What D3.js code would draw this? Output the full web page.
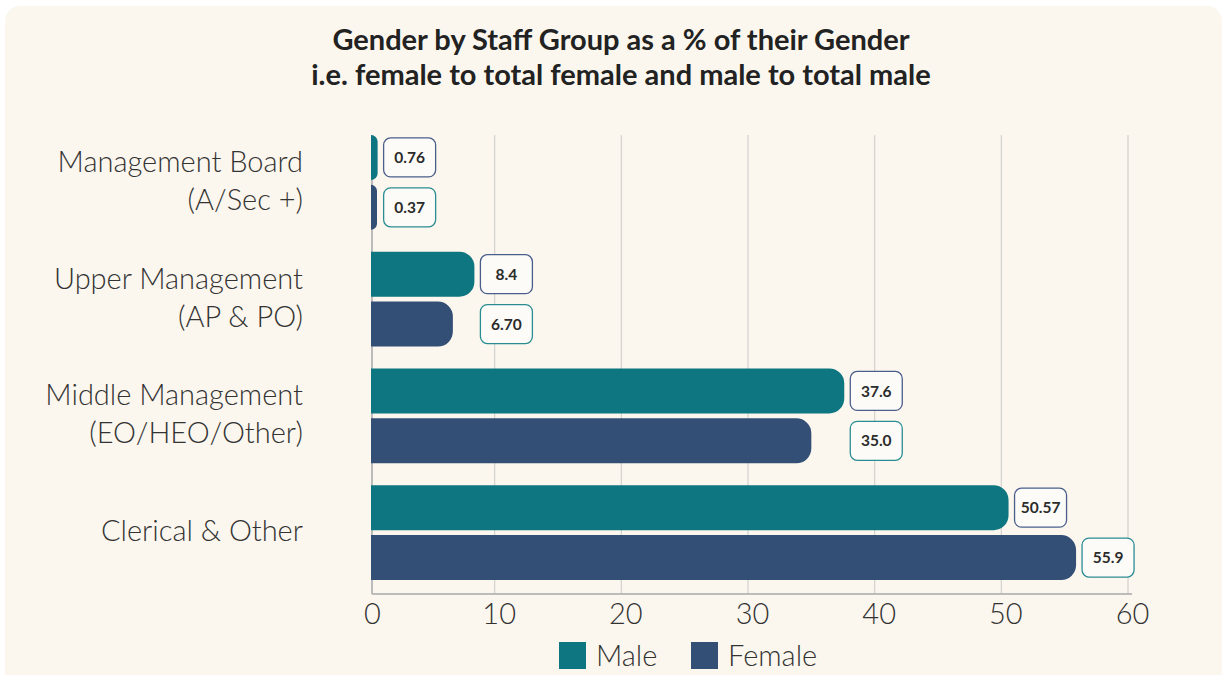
<!DOCTYPE html>
<html>
<head>
<meta charset="utf-8">
<script src="https://cdn.jsdelivr.net/npm/d3@7"></script>
<style>
	html, body { margin: 0; padding: 0; background: #ffffff; }
	svg { display: block; font-family: Lato, "Open Sans", sans-serif; }
</style>
</head>
<body>
<svg width="1229" height="675"></svg>
<script>
// data
const categories = [
	["Management Board", "(A/Sec +)"],
	["Upper Management", "(AP & PO)"],
	["Middle Management", "(EO/HEO/Other)"],
	["Clerical & Other"]
];
const series = ["Male", "Female"];
const maleValues = [0.76, 8.4, 37.6, 50.57];
const femaleValues = [0.37, 6.70, 35.0, 55.9];
const maleLabels = ["0.76", "8.4", "37.6", "50.57"];
const femaleLabels = ["0.37", "6.70", "35.0", "55.9"];
const xTicks = [0, 10, 20, 30, 40, 50, 60];

const colors = { Male: "#0e7680", Female: "#334f75" };
const labelBorder = { Male: "#4a5e8c", Female: "#2a8c93" };

const svg = d3.select("svg");

// card background
svg.append("rect")
	.attr("x", 5).attr("y", 6)
	.attr("width", 1217).attr("height", 700)
	.attr("rx", 15)
	.attr("fill", "#fbf7ee");

// title
const title = svg.append("text")
	.attr("text-anchor", "middle")
	.attr("font-weight", 700)
	.attr("font-size", 29)
	.attr("fill", "#222");
title.append("tspan").attr("x", 621).attr("y", 50).text("Gender by Staff Group as a % of their Gender");
title.append("tspan").attr("x", 621).attr("y", 85).text("i.e. female to total female and male to total male");

const x = d3.scaleLinear([0, 60], [368, 1128]);
const y = d3.scaleBand(d3.range(categories.length), [124, 591]);
const ySub = d3.scaleBand(series, [0, y.bandwidth()]).paddingInner(0.1).paddingOuter(0.22);

const plotTop = 135, plotBottom = 594, axisX = x(0) + 4;

// grid
svg.append("g")
	.selectAll("line")
	.data(xTicks.slice(1))
	.join("line")
	.attr("x1", d => x(d)).attr("x2", d => x(d))
	.attr("y1", plotTop).attr("y2", plotBottom)
	.attr("stroke", "#d3d1cf")
	.attr("stroke-width", 1.2);

// axis lines
svg.append("line")
	.attr("x1", axisX).attr("x2", axisX)
	.attr("y1", plotTop).attr("y2", plotBottom)
	.attr("stroke", "#a9a9a9").attr("stroke-width", 1.5);
svg.append("line")
	.attr("x1", axisX).attr("x2", x(60) + 4)
	.attr("y1", plotBottom).attr("y2", plotBottom)
	.attr("stroke", "#a9a9a9").attr("stroke-width", 1.5);

// x tick labels
const xAxis = d3.axisBottom(x).tickValues(xTicks).tickSize(0).tickPadding(9);
const gX = svg.append("g")
	.attr("transform", `translate(0,${plotBottom})`)
	.call(xAxis);
gX.select(".domain").remove();
gX.selectAll("text")
	.attr("font-family", "Lato, sans-serif")
	.attr("font-weight", 300)
	.attr("font-size", 29)
	.attr("fill", "#333")
	.attr("dx", 4)
	.attr("dy", "0.72em");

// category labels
const catLabels = svg.append("g")
	.selectAll("text")
	.data(categories)
	.join("text")
	.attr("text-anchor", "end")
	.attr("font-weight", 300)
	.attr("font-size", 29)
	.attr("fill", "#333");
catLabels.each(function (lines, i) {
	const cy = y(i) + y.bandwidth() / 2 - 2;
	const lh = 38;
	const start = cy - (lines.length - 1) * lh / 2;
	d3.select(this).selectAll("tspan")
		.data(lines)
		.join("tspan")
		.attr("x", 303)
		.attr("y", (d, j) => start + j * lh)
		.attr("dy", "0.36em")
		.text(d => d);
});

// bar data
const bars = [];
categories.forEach((c, i) => {
	bars.push({ i, s: "Male", v: maleValues[i], label: maleLabels[i], anchor: maleValues[i] });
	bars.push({ i, s: "Female", v: femaleValues[i], label: femaleLabels[i], anchor: Math.max(maleValues[i], femaleValues[i]) });
});

function barPath(d) {
	const x0 = axisX - 1, x1 = Math.max(x(d.v), axisX + 5);
	const y0 = y(d.i) + ySub(d.s), h = ySub.bandwidth(), y1 = y0 + h;
	const r = Math.min(15, x1 - x0, h / 2);
	return `M${x0},${y0}H${x1 - r}A${r},${r} 0 0 1 ${x1},${y0 + r}V${y1 - r}A${r},${r} 0 0 1 ${x1 - r},${y1}H${x0}Z`;
}

svg.append("g")
	.selectAll("path")
	.data(bars)
	.join("path")
	.attr("d", barPath)
	.attr("fill", d => colors[d.s]);

// value labels
const boxW = 52, boxH = 39;
const lab = svg.append("g")
	.selectAll("g")
	.data(bars)
	.join("g")
	.attr("transform", d => `translate(${Math.max(x(d.anchor), axisX + 5) + 6},${y(d.i) + ySub(d.s) + ySub.bandwidth() / 2})`);
lab.append("rect")
	.attr("x", 0).attr("y", -boxH / 2)
	.attr("width", boxW).attr("height", boxH)
	.attr("rx", 7)
	.attr("fill", "#fdfbf7")
	.attr("stroke", d => labelBorder[d.s])
	.attr("stroke-width", 1.3);
lab.append("text")
	.attr("x", boxW / 2)
	.attr("dy", "0.36em")
	.attr("text-anchor", "middle")
	.attr("font-weight", 700)
	.attr("font-size", 15.5)
	.attr("fill", "#2b2b2b")
	.text(d => d.label);

// legend
const legend = svg.append("g")
	.selectAll("g")
	.data(series)
	.join("g")
	.attr("transform", (d, i) => `translate(${[559, 691][i]},642)`);
legend.append("rect")
	.attr("width", 27).attr("height", 27)
	.attr("fill", d => colors[d]);
legend.append("text")
	.attr("x", 37).attr("y", 14)
	.attr("dy", "0.36em")
	.attr("font-weight", 300)
	.attr("font-size", 29)
	.attr("fill", "#333")
	.text(d => d);
</script>
</body>
</html>
